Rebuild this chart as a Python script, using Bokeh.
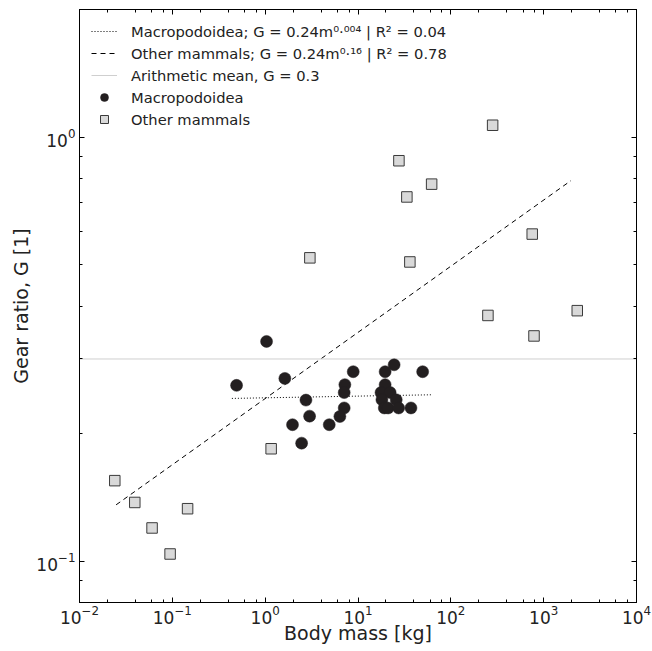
import numpy as np
from bokeh.plotting import figure
from bokeh.models import (LogAxis, LogTicker, FixedTicker, LogTickFormatter,
                          CustomJSTickFormatter, Legend, LegendItem)
from bokeh.embed import file_html
from bokeh.resources import INLINE

# ---- data ----
macro_mass = [1.035, 0.492, 1.63, 2.75, 3.01, 1.97, 4.90, 2.47, 8.88, 7.22, 7.10, 7.10, 6.38,
              19.6, 24.5, 49.7, 19.6, 17.7, 22.2, 18.1, 25.8, 19.2, 21.1, 27.4, 37.2]
macro_gear = [0.330, 0.260, 0.270, 0.240, 0.220, 0.210, 0.210, 0.190, 0.280, 0.261, 0.250, 0.230, 0.2196,
              0.280, 0.2907, 0.280, 0.261, 0.250, 0.250, 0.2404, 0.2404, 0.230, 0.230, 0.230, 0.230]

other_mass = [0.024, 0.0394, 0.0605, 0.0946, 0.146, 1.16, 3.03, 27.6, 33.6, 36.2, 62.1,
              282, 251, 753, 787, 2301]
other_gear = [0.155, 0.1377, 0.1199, 0.1041, 0.1331, 0.1843, 0.5195, 0.880, 0.723, 0.508, 0.775,
              1.067, 0.380, 0.591, 0.340, 0.390]

# power-law fits G = a * m^b, and the mass span over which each is drawn
macro_fit = [0.243, 0.004]
macro_fit_span = [0.438, 62.5]
other_fit = [0.242, 0.156]
other_fit_span = [0.0248, 1970]
mean_gear = 0.3

x_limits = [0.01, 1e4]
y_limits = [0.08, 2.0]
y_major_ticks = [0.1, 1.0]
y_minor_ticks = [0.08, 0.09, 0.2, 0.3, 0.4, 0.5, 0.6, 0.7, 0.8, 0.9, 2.0]

legend_labels = [
    "Macropodoidea; G = 0.24m⁰·⁰⁰⁴ | R² = 0.04",
    "Other mammals; G = 0.24m⁰·¹⁶ | R² = 0.78",
    "Arithmetic mean, G = 0.3",
    "Macropodoidea",
    "Other mammals",
]

FONT = "DejaVu Sans"

p = figure(width=652, height=651, x_axis_type="log", y_axis_type="log",
           x_range=tuple(x_limits), y_range=tuple(y_limits),
           output_backend="svg", toolbar_location=None,
           min_border_left=79, min_border_right=16, min_border_top=9, min_border_bottom=49)
p.xgrid.visible = False
p.ygrid.visible = False
p.outline_line_color = "black"
p.outline_line_width = 1
p.background_fill_color = "white"
p.border_fill_color = "white"

# fit lines
mx = np.array(macro_fit_span)
r_macro = p.line(mx, macro_fit[0] * mx ** macro_fit[1], line_color="black",
                 line_width=1, line_dash="1 2")
ox = np.array(other_fit_span)
r_other = p.line(ox, other_fit[0] * ox ** other_fit[1], line_color="black",
                 line_width=1, line_dash="5 4")
r_mean = p.line(x_limits, [mean_gear, mean_gear], line_color="#cfcfcf", line_width=1)

r_sq = p.scatter(other_mass, other_gear, marker="square", size=10.5,
                 fill_color="#d9d9d9", line_color="#3a3a3a", line_width=1)
r_ci = p.scatter(macro_mass, macro_gear, marker="circle", size=12,
                 fill_color="#231f20", line_color="#231f20", line_width=0.5)

# axes styling
def style_axis(ax, labels=True):
    ax.axis_line_color = "black"
    ax.major_tick_in = 5
    ax.major_tick_out = 0
    ax.minor_tick_in = 3
    ax.minor_tick_out = 0
    ax.major_tick_line_color = "black"
    ax.minor_tick_line_color = "black"
    ax.major_label_text_font = FONT
    ax.major_label_text_font_size = "17px"
    ax.major_label_text_color = "#222222"
    ax.major_label_standoff = 2 if labels else 0
    ax.axis_label_text_font = FONT
    ax.axis_label_text_font_size = "19px"
    ax.axis_label_text_font_style = "normal"
    ax.axis_label_text_color = "#222222"
    ax.axis_label_standoff = 2

p.yaxis.ticker = FixedTicker(ticks=y_major_ticks, minor_ticks=y_minor_ticks)
p.yaxis.formatter = LogTickFormatter()
p.xaxis.ticker = LogTicker()
style_axis(p.xaxis[0])
style_axis(p.yaxis[0])
p.yaxis.major_label_standoff = 4
p.yaxis.axis_label_standoff = 1
p.xaxis.axis_label_standoff = -5
p.xaxis.axis_label = "Body mass [kg]"
p.yaxis.axis_label = "Gear ratio, G [1]"

top = LogAxis(ticker=LogTicker(), formatter=CustomJSTickFormatter(code="return ''"))
style_axis(top, labels=False)
p.add_layout(top, "above")
right = LogAxis(ticker=FixedTicker(ticks=y_major_ticks, minor_ticks=y_minor_ticks),
                formatter=CustomJSTickFormatter(code="return ''"))
style_axis(right, labels=False)
p.add_layout(right, "right")

legend = Legend(items=[
    LegendItem(label=legend_labels[0], renderers=[r_macro]),
    LegendItem(label=legend_labels[1], renderers=[r_other]),
    LegendItem(label=legend_labels[2], renderers=[r_mean]),
    LegendItem(label=legend_labels[3], renderers=[r_ci]),
    LegendItem(label=legend_labels[4], renderers=[r_sq]),
], location="top_left")
legend.border_line_color = None
legend.background_fill_alpha = 0
legend.label_text_font = FONT
legend.label_text_font_size = "14.7px"
legend.label_text_color = "#222222"
legend.glyph_width = 26
legend.glyph_height = 20
legend.label_height = 20
legend.spacing = 2
legend.padding = 2
legend.margin = 12
legend.label_standoff = 14
p.add_layout(legend)

open("out.html", "w").write(file_html(p, INLINE))
